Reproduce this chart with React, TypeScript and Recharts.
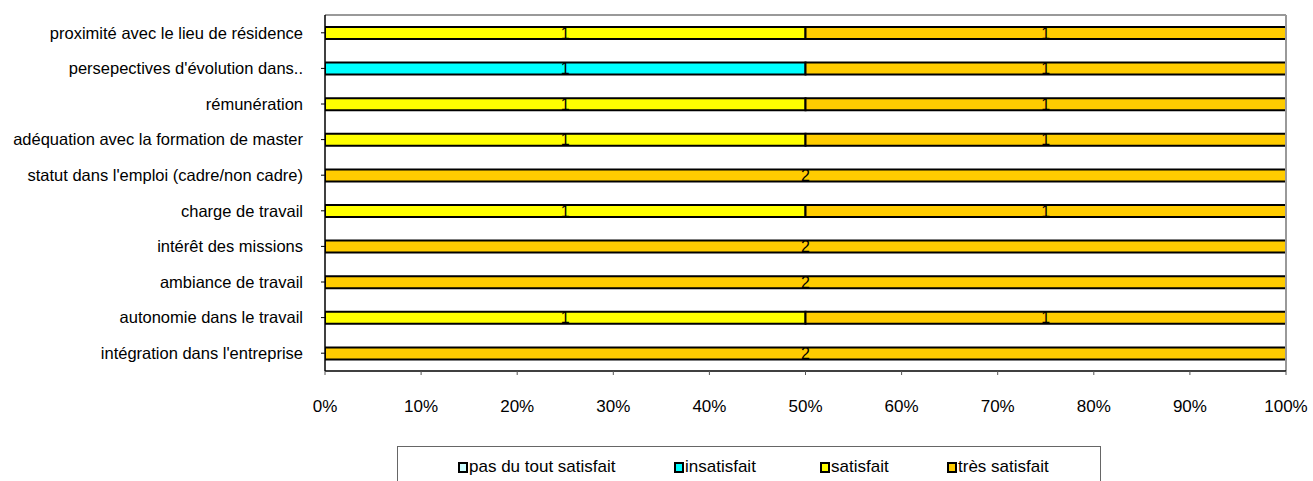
import React from 'react';
import { BarChart, Bar, XAxis, YAxis, Legend, LabelList, ReferenceLine, CartesianGrid } from 'recharts';

const categories = [
  'proximité avec le lieu de résidence',
  "persepectives d'évolution dans..",
  'rémunération',
  'adéquation avec la formation de master',
  "statut dans l'emploi (cadre/non cadre)",
  'charge de travail',
  'intérêt des missions',
  'ambiance de travail',
  'autonomie dans le travail',
  "intégration dans l'entreprise",
];
const pasDuToutSatisfait = [0, 0, 0, 0, 0, 0, 0, 0, 0, 0];
const insatisfait = [0, 1, 0, 0, 0, 0, 0, 0, 0, 0];
const satisfait = [1, 0, 1, 1, 0, 1, 0, 0, 1, 0];
const tresSatisfait = [1, 1, 1, 1, 2, 1, 2, 2, 1, 2];
const xTicks = [0, 0.1, 0.2, 0.3, 0.4, 0.5, 0.6, 0.7, 0.8, 0.9, 1];

const seriesNames = ['pas du tout satisfait', 'insatisfait', 'satisfait', 'très satisfait'];
const seriesKeys = ['pasDuTout', 'insatisfait', 'satisfait', 'tres'];
const seriesColors = ['#CCFFFF', '#00FFFF', '#FFFF00', '#FFCC00'];

const data = categories.map((c, i) => ({
  name: c,
  pasDuTout: pasDuToutSatisfait[i],
  insatisfait: insatisfait[i],
  satisfait: satisfait[i],
  tres: tresSatisfait[i],
}));

const FONT = '"Liberation Sans", Arial, sans-serif';
const legendLeft = [60, 276, 422, 549];

const topEdge = (props: any) => {
  const o = props && props.offset;
  return o && typeof o.top === 'number' ? [o.top] : [];
};

const renderLegend = (props: any) => {
  const payload = [...(props.payload || [])].sort(
    (a: any, b: any) => seriesNames.indexOf(a.value) - seriesNames.indexOf(b.value)
  );
  return (
    <div
      style={{
        position: 'relative',
        width: 704,
        height: 45,
        border: '1px solid #666',
        boxSizing: 'border-box',
        background: '#fff',
        fontFamily: FONT,
        fontSize: 17,
        color: '#000',
      }}
    >
      {payload.map((p: any, i: number) => (
        <div
          key={p.value}
          style={{
            position: 'absolute',
            left: legendLeft[i],
            top: 10,
            display: 'flex',
            alignItems: 'center',
            whiteSpace: 'nowrap',
          }}
        >
          <span
            style={{
              display: 'inline-block',
              width: 6,
              height: 7,
              border: '2px solid #000',
              background: p.color,
              marginRight: 1,
            }}
          />
          <span>{p.value}</span>
        </div>
      ))}
    </div>
  );
};

export default function App() {
  return (
    <div style={{ position: 'absolute', left: 0, top: 0, width: 1313, height: 481, background: '#fff' }}>
      <BarChart
        width={1313}
        height={481}
        data={data}
        layout="vertical"
        stackOffset="expand"
        margin={{ top: 15, right: 27, bottom: 80, left: 0 }}
        barSize={12}
      >
        <CartesianGrid
          xAxisId="main"
          yAxisId="cat"
          vertical={false}
          horizontal
          horizontalCoordinatesGenerator={topEdge}
          stroke="#999"
          strokeWidth={2}
        />
        <XAxis
          xAxisId="main"
          type="number"
          domain={[0, 1]}
          ticks={xTicks}
          tickFormatter={(v: number) => `${Math.round(v * 100)}%`}
          axisLine={{ stroke: '#000', strokeWidth: 1.5 }}
          tickLine={{ stroke: '#555' }}
          tickSize={4}
          tickMargin={25}
          height={30}
          tick={{ fill: '#000', fontSize: 17, fontFamily: FONT }}
          allowDataOverflow
        />
        <YAxis
          yAxisId="cat"
          type="category"
          dataKey="name"
          width={325}
          axisLine={{ stroke: '#000', strokeWidth: 1.5 }}
          tickLine={{ stroke: '#000' }}
          tickSize={4}
          tickMargin={18}
          tick={{ fill: '#000', fontSize: 16.5, fontFamily: FONT }}
          interval={0}
        />
        <ReferenceLine xAxisId="main" yAxisId="cat" x={1} stroke="#999" strokeWidth={2} />
        {seriesKeys.map((k, i) => (
          <Bar
            key={k}
            dataKey={k}
            name={seriesNames[i]}
            stackId="a"
            xAxisId="main"
            yAxisId="cat"
            fill={seriesColors[i]}
            stroke="#000"
            strokeWidth={2}
            isAnimationActive={false}
          >
            <LabelList
              dataKey={k}
              position="center"
              fill="#000"
              fontSize={16}
              fontFamily={FONT}
              formatter={(v: any) => (v > 0 ? v : '')}
            />
          </Bar>
        ))}
        <Legend
          content={renderLegend}
          wrapperStyle={{ position: 'absolute', left: 397, top: 446, width: 704, height: 0 }}
        />
      </BarChart>
    </div>
  );
}
